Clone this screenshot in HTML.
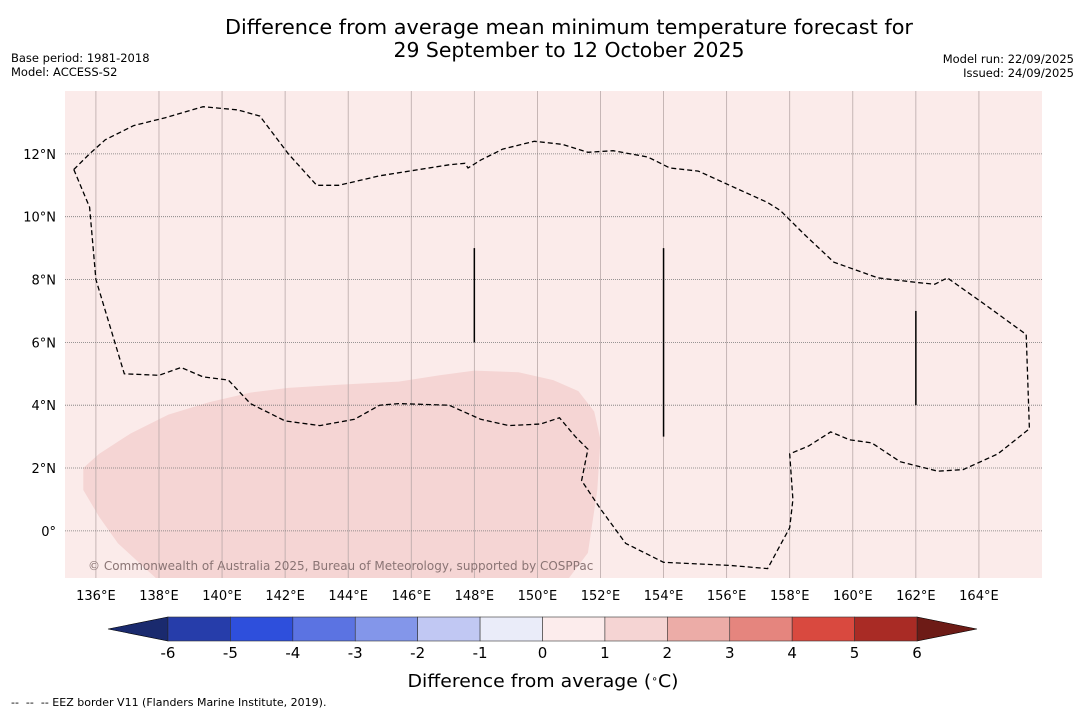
<!DOCTYPE html>
<html><head><meta charset="utf-8"><style>
body{margin:0;background:#fff;font-family:"Liberation Sans","DejaVu Sans",sans-serif;}
svg{display:block}
</style></head><body>
<svg width="1085" height="713" xmlns="http://www.w3.org/2000/svg" font-family="DejaVu Sans, Liberation Sans, sans-serif">
<text x="569" y="34" font-size="20.4" text-anchor="middle" textLength="688" lengthAdjust="spacingAndGlyphs">Difference from average mean minimum temperature forecast for</text>
<text x="569" y="57" font-size="20.4" text-anchor="middle">29 September to 12 October 2025</text>
<text x="11" y="62" font-size="11.5">Base period: 1981-2018</text>
<text x="11" y="76" font-size="11.5">Model: ACCESS-S2</text>
<text x="1074" y="63" font-size="11.5" text-anchor="end">Model run: 22/09/2025</text>
<text x="1074" y="77" font-size="11.5" text-anchor="end">Issued: 24/09/2025</text>
<g id="map"></g>
<g id="cbar"></g>
<text x="543" y="687" font-size="17.5" text-anchor="middle" textLength="271" lengthAdjust="spacingAndGlyphs">Difference from average (<tspan baseline-shift="super" font-size="10">∘</tspan>C)</text>
<text x="11" y="706" font-size="11" xml:space="preserve">--  --  -- EEZ border V11 (Flanders Marine Institute, 2019).</text>
</svg>
<script>
const lonTicks=[136,138,140,142,144,146,148,150,152,154,156,158,160,162,164];
const latTicks=[0,2,4,6,8,10,12];
const eezLon=[135.3,135.8,136.0,136.9,138.0,138.7,139.4,140.2,140.9,142.0,143.1,144.2,145.0,145.6,147.2,148.2,149.1,150.1,150.7,151.2,151.6,151.4,152.0,152.8,154.0,156.1,157.3,158.0,158.1,158.0,158.6,159.3,159.9,160.6,161.5,162.7,163.5,164.6,165.6,165.5,164.2,163.0,162.6,162.1,160.8,159.4,158.5,157.7,157.3,156.2,155.1,154.2,153.5,152.4,151.6,150.8,149.9,148.9,148.2,147.8,147.7,147.2,145.0,143.7,143.0,142.1,141.2,140.5,139.4,138.2,137.2,136.3,135.8,135.3];
const eezLat=[11.5,10.3,8.0,5.0,4.95,5.2,4.9,4.8,4.05,3.5,3.35,3.55,4.0,4.05,4.0,3.55,3.35,3.4,3.6,3.0,2.6,1.6,0.7,-0.4,-1.0,-1.1,-1.2,0.1,1.0,2.45,2.7,3.15,2.9,2.8,2.2,1.9,1.95,2.45,3.25,6.25,7.2,8.05,7.85,7.9,8.05,8.55,9.4,10.2,10.45,10.95,11.45,11.55,11.9,12.1,12.05,12.3,12.4,12.15,11.8,11.55,11.7,11.65,11.3,11.0,11.0,12.0,13.2,13.4,13.5,13.15,12.9,12.45,12.0,11.5];
const shadeLon=[135.6,136.1,137.1,138.3,139.6,140.9,142.1,143.7,145.6,146.9,148.0,149.4,150.5,151.3,151.8,152.0,151.9,151.6,151.0,137.9,136.7,136.1,135.6];
const shadeLat=[2.0,2.45,3.1,3.7,4.1,4.4,4.55,4.65,4.75,4.95,5.1,5.05,4.8,4.45,3.8,2.9,1.3,-0.7,-1.5,-1.5,-0.4,0.45,1.3];
const segLon=[148,154,162];
const segLat0=[9,9,7];
const segLat1=[6,3,4];
const cbLevels=[-6,-5,-4,-3,-2,-1,0,1,2,3,4,5,6];
const cbColors=['#263daa','#2e4fdc','#5b73e2','#8396ea','#c1c8f3','#eaecf9','#fcecec','#f5d4d3','#ecaca7','#e5857e','#d9493f','#a92b25'];
const cbLow='#1a2a6e',cbHigh='#6d1b16';

const NS='http://www.w3.org/2000/svg';
const X0=65,X1=1042,Y0=91,Y1=578,LON0=135.02,LON1=166,LAT0=-1.5,LAT1=14;
const px=l=>X0+(l-LON0)/(LON1-LON0)*(X1-X0);
const py=l=>Y1-(l-LAT0)/(LAT1-LAT0)*(Y1-Y0);
function mk(t,a,p){const e=document.createElementNS(NS,t);for(const k in a)e.setAttribute(k,a[k]);p.appendChild(e);return e;}
const map=document.getElementById('map');


const defs=mk('defs',{},map);
const cp=mk('clipPath',{id:'cp'},defs);mk('rect',{x:X0,y:Y0,width:X1-X0,height:Y1-Y0},cp);
const bg=mk('rect',{x:X0,y:Y0,width:X1-X0,height:Y1-Y0,fill:'#fbebea'},map);


const g=mk('g',{'clip-path':'url(#cp)'},map);
let d=shadeLon.map((l,i)=>(i?'L':'M')+px(l).toFixed(1)+','+py(shadeLat[i]).toFixed(1)).join('')+'Z';
const sh=mk('path',{d:d,fill:'#f5d5d4'},g);


lonTicks.forEach(l=>{
 const ln=mk('line',{x1:px(l),x2:px(l),y1:Y0,y2:Y1,stroke:'#b8a8a8',"stroke-width":0.8},g);
 
 
 const t=mk('text',{x:px(l),y:600,'font-size':13,'text-anchor':'middle'},map);t.textContent=l+'°E';
 
 
});
latTicks.forEach(l=>{
 const ln=mk('line',{x1:X0,x2:X1,y1:py(l),y2:py(l),stroke:'#777',"stroke-width":0.8,"stroke-dasharray":'1,1'},g);
 
 
 const t=mk('text',{x:56,y:py(l)+5,'font-size':13,'text-anchor':'end'},map);t.textContent=l===0?'0°':l+'°N';
 
 
});
d=eezLon.map((l,i)=>(i?'L':'M')+px(l).toFixed(1)+','+py(eezLat[i]).toFixed(1)).join('');
const ez=mk('path',{d:d,fill:'none',stroke:'#000','stroke-width':1.3,'stroke-dasharray':'5,3'},g);


segLon.forEach((l,i)=>{
 const s=mk('line',{x1:px(l),x2:px(l),y1:py(segLat0[i]),y2:py(segLat1[i]),stroke:'#000','stroke-width':1.5},g);
 
 
});
const cr=mk('text',{x:88,y:570,'font-size':12,fill:'#8a7474'},map);cr.textContent='© Commonwealth of Australia 2025, Bureau of Meteorology, supported by COSPPac';



const cb=document.getElementById('cbar');


const CX0=168,CX1=917,CY0=617,CY1=641,n=cbColors.length;
const cx=v=>CX0+(v-cbLevels[0])/(cbLevels[n]-cbLevels[0])*(CX1-CX0);
const tl=mk('polygon',{points:`108,629 ${CX0},${CY0} ${CX0},${CY1}`,fill:cbLow,stroke:'#000','stroke-width':0.6},cb);


const th=mk('polygon',{points:`977,629 ${CX1},${CY0} ${CX1},${CY1}`,fill:cbHigh,stroke:'#000','stroke-width':0.6},cb);


cbColors.forEach((c,i)=>{
 const r=mk('rect',{x:cx(cbLevels[i]),y:CY0,width:cx(cbLevels[i+1])-cx(cbLevels[i]),height:CY1-CY0,fill:c,stroke:'#333','stroke-width':0.6},cb);
 
 
});
cbLevels.forEach(v=>{
 const t=mk('text',{x:cx(v),y:658,'font-size':15,'text-anchor':'middle'},cb);t.textContent=v;
 
 
});
</script>
</body></html>
